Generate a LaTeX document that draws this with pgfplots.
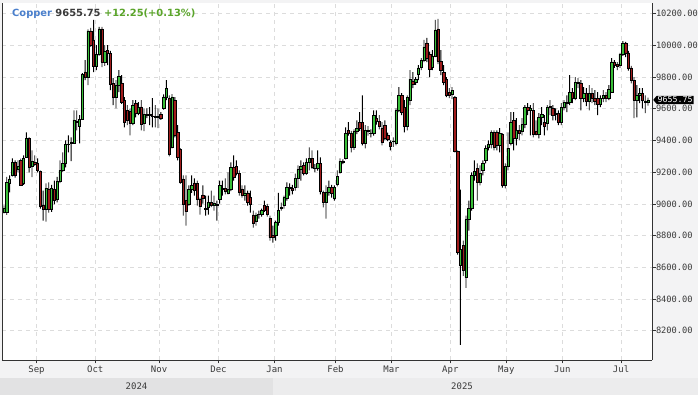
\documentclass[border=0pt]{standalone}
\usepackage{fontspec}
\setmainfont{DejaVu Sans}
\setmonofont{DejaVu Sans Mono}
\usepackage{pgfplots}
\usepackage{pgfplotstable}
\pgfplotsset{compat=1.18}
\usetikzlibrary{shapes.symbols}
\pgfdeclarelayer{bglayer}
\pgfsetlayers{bglayer,main}
\definecolor{bg}{HTML}{F3F3F4}
\definecolor{gridc}{HTML}{DCDCDC}
\definecolor{axc}{HTML}{333333}
\definecolor{txt}{HTML}{3A3A3A}
\definecolor{cgreen}{HTML}{38BE38}
\definecolor{cred}{HTML}{A01C1C}
\definecolor{tblue}{HTML}{4A7FCC}
\definecolor{tgreen}{HTML}{5BA52B}
\definecolor{yrA}{HTML}{E2E2E3}
\definecolor{yrB}{HTML}{ECECED}

\pgfplotstableread{
i O H L C
0 8950 8990 8940 8975
1 8945 9170 8930 9137
2 9127 9180 9072 9158
3 9179 9287 9173 9260
4 9260 9274 9166 9179
5 9217 9274 9198 9238
6 9274 9285 9116 9120
7 9127 9306 9120 9289
8 9295 9451 9290 9415
9 9411 9420 9198 9232
10 9238 9337 9168 9270
11 9264 9306 9240 9249
12 9257 9287 9198 9211
13 9205 9210 8970 8985
14 8989 9084 8894 8964
15 8968 9129 8888 9099
16 9095 9135 8945 8968
17 8968 9120 8950 9099
18 9095 9147 8996 9021
19 9027 9170 9010 9143
20 9143 9274 9130 9211
21 9211 9325 9200 9253
22 9257 9401 9230 9374
23 9374 9432 9325 9378
24 9380 9420 9270 9390
25 9380 9590 9380 9529
26 9521 9590 9464 9513
27 9490 9559 9382 9534
28 9534 9825 9530 9817
29 9833 9907 9780 9801
30 9801 10100 9749 10091
31 10091 10110 9990 10002
32 10034 10160 9831 9865
33 9865 10002 9844 9943
34 9943 10116 9935 10103
35 10103 10116 9863 9896
36 9896 10002 9870 9960
37 9970 10002 9875 9950
38 9950 9965 9717 9753
39 9760 9793 9622 9675
40 9675 9780 9603 9749
41 9745 9844 9705 9808
42 9760 9812 9630 9643
43 9654 9673 9483 9517
44 9591 9622 9496 9527
45 9584 9600 9432 9506
46 9506 9654 9496 9622
47 9633 9654 9546 9570
48 9570 9641 9560 9612
49 9612 9654 9464 9500
50 9506 9603 9458 9563
51 9565 9603 9540 9560
52 9560 9610 9496 9565
53 9555 9667 9483 9550
54 9550 9622 9483 9547
55 9545 9603 9477 9550
56 9565 9578 9530 9538
57 9601 9690 9595 9675
58 9675 9780 9654 9728
59 9665 9685 9300 9316
60 9358 9692 9350 9675
61 9654 9673 9420 9432
62 9453 9496 9274 9295
63 9344 9350 9128 9137
64 9158 9179 8926 9000
65 9021 9179 8863 8951
66 9000 9116 8989 9090
67 9090 9179 9070 9116
68 9133 9160 9052 9084
69 9127 9147 8989 9027
70 9027 9040 8932 8983
71 9057 9116 9002 9035
72 8964 9052 8926 8970
73 8979 9052 8932 9010
74 9010 9084 8980 8989
75 8989 9052 8957 9004
76 8995 9021 8894 8993
77 9027 9147 9002 9116
78 9095 9147 9052 9098
79 9099 9160 9060 9078
80 9070 9198 9060 9089
81 9089 9262 9080 9228
82 9232 9306 9147 9168
83 9238 9274 9180 9190
84 9192 9211 9052 9072
85 9095 9116 9040 9052
86 9052 9116 9021 9070
87 9070 9084 8989 9008
88 9040 9084 8945 9000
89 8930 8957 8850 8880
90 8888 8945 8863 8930
91 8932 8957 8907 8935
92 8932 8970 8920 8957
93 8989 9021 8950 8957
94 8983 9000 8920 8932
95 8907 8926 8768 8787
96 8799 8863 8755 8787
97 8799 8894 8768 8882
98 8882 9070 8863 8957
99 8975 9008 8957 8980
100 8989 9052 8970 9040
101 9034 9135 9020 9103
102 9097 9129 9052 9103
103 9097 9120 9060 9084
104 9103 9190 9084 9160
105 9160 9242 9100 9217
106 9217 9274 9147 9236
107 9242 9262 9180 9192
108 9192 9287 9185 9262
109 9262 9356 9211 9287
110 9287 9337 9220 9230
111 9225 9250 9200 9222
112 9225 9337 9210 9255
113 9255 9293 9060 9078
114 9072 9084 8977 9008
115 9008 9116 8907 9072
116 9072 9147 9052 9103
117 9103 9120 9040 9065
118 9034 9116 9020 9103
119 9122 9211 9110 9173
120 9198 9287 9190 9268
121 9268 9280 9250 9265
122 9287 9483 9280 9445
123 9464 9515 9430 9445
124 9445 9460 9325 9356
125 9356 9470 9340 9458
126 9458 9527 9440 9477
127 9515 9578 9460 9477
128 9515 9685 9369 9382
129 9382 9496 9350 9464
130 9460 9490 9430 9466
131 9445 9470 9420 9448
132 9445 9590 9430 9559
133 9540 9590 9500 9521
134 9521 9559 9470 9490
135 9477 9515 9369 9388
136 9496 9527 9400 9413
137 9432 9450 9395 9407
138 9388 9400 9337 9363
139 9395 9420 9360 9398
140 9382 9603 9369 9590
141 9590 9736 9578 9685
142 9685 9698 9559 9578
143 9610 9654 9451 9490
144 9490 9685 9464 9673
145 9654 9844 9622 9787
146 9774 9831 9730 9755
147 9768 9800 9750 9787
148 9819 9875 9780 9857
149 9863 9920 9844 9907
150 9907 10034 9894 9990
151 10015 10047 9894 9920
152 9945 9960 9800 9850
153 9863 9970 9844 9933
154 9933 10160 9925 10097
155 10103 10167 9882 9901
156 9901 9970 9812 9844
157 9831 9875 9749 9768
158 9787 9800 9673 9685
159 9705 9730 9667 9685
160 9692 9736 9660 9717
161 9673 9680 9325 9331
162 9331 9335 8680 8692
163 8610 9090 8110 8711
164 8736 8768 8546 8578
165 8534 8926 8470 8901
166 8901 9021 8831 8970
167 8970 9198 8957 9179
168 9179 9274 9147 9205
169 9224 9255 9021 9135
170 9135 9242 9116 9192
171 9211 9274 9179 9255
172 9274 9369 9255 9350
173 9356 9401 9337 9375
174 9375 9464 9350 9451
175 9451 9464 9337 9356
176 9451 9464 9337 9369
177 9369 9477 9325 9445
178 9439 9445 9103 9116
179 9116 9255 9097 9236
180 9236 9451 9211 9350
181 9382 9578 9369 9515
182 9527 9578 9337 9413
183 9413 9540 9369 9464
184 9464 9496 9401 9445
185 9458 9540 9432 9502
186 9502 9622 9477 9610
187 9610 9635 9559 9590
188 9590 9622 9432 9603
189 9590 9635 9420 9439
190 9458 9527 9432 9439
191 9439 9572 9413 9546
192 9546 9610 9496 9565
193 9515 9559 9432 9490
194 9508 9622 9464 9610
195 9610 9654 9559 9616
196 9603 9622 9527 9559
197 9572 9603 9527 9565
198 9572 9590 9496 9515
199 9515 9635 9496 9610
200 9610 9654 9590 9641
201 9635 9685 9578 9641
202 9641 9812 9622 9705
203 9705 9730 9635 9667
204 9667 9800 9654 9768
205 9762 9793 9730 9770
206 9762 9780 9590 9667
207 9667 9736 9641 9698
208 9698 9730 9616 9648
209 9648 9749 9590 9698
210 9698 9730 9635 9667
211 9667 9717 9622 9648
212 9667 9705 9559 9629
213 9629 9685 9610 9667
214 9667 9717 9641 9685
215 9685 9705 9641 9667
216 9667 9749 9654 9724
217 9707 9920 9705 9895
218 9895 9907 9857 9875
219 9882 9894 9844 9869
220 9875 9952 9857 9945
221 9945 10027 9933 10015
222 10015 10021 9926 9952
223 9952 9965 9840 9857
224 9857 9870 9760 9780
225 9780 9800 9540 9654
226 9654 9749 9546 9685
227 9685 9730 9635 9698
228 9698 9730 9603 9654
229 9650 9685 9572 9643
230 9643.5 9670 9620 9655.75
}\candles

\begin{document}
\begin{tikzpicture}[x=1pt,y=1pt]
\begin{axis}[
  scale only axis, width=650pt, height=357pt,
  xmin=-0.714, xmax=231.43, ymin=8015, ymax=10267,
  axis background/.style={fill=white},
  axis x line*=bottom, axis y line*=right,
  axis line style={axc, line width=0.8pt},
  tick align=outside, major tick length=3.5pt,
  tick style={axc, line width=0.6pt},
  xtick={11.6,32.6,55.4,76.6,96.6,118.4,138.4,159.4,179.4,199.4,220.4},
  xticklabels={Sep,Oct,Nov,Dec,Jan,Feb,Mar,Apr,May,Jun,Jul},
  ytick={8200,8400,8600,8800,9000,9200,9400,9600,9800,10000,10200},
  yticklabels={8200.00,8400.00,8600.00,8800.00,9000.00,9200.00,9400.00,9600.00,9800.00,10000.00,10200.00},
  xticklabel style={font=\ttfamily\fontsize{9}{10}\selectfont, text=txt, inner sep=2pt},
  yticklabel style={font=\ttfamily\fontsize{8.7}{10}\selectfont, text=txt, inner sep=0.3pt},
  grid=major,
  major grid style={gridc, dash pattern=on 4pt off 4pt, line width=0.6pt},
  ybar stacked,
]
% invisible base up to the low
\addplot[draw=none, fill=none, bar width=0.9pt] table[x=i, y=L] {\candles};
% lower wick
\addplot[draw=none, fill=black, bar width=0.9pt] table[x=i, y expr={min(\thisrow{O},\thisrow{C})-\thisrow{L}}] {\candles};
% rising bodies
\addplot[fill=cgreen, draw=black, line width=0.5pt, bar width=2.3pt] table[x=i, y expr={max(\thisrow{C}-\thisrow{O},0)}] {\candles};
% falling bodies
\addplot[fill=cred, draw=black, line width=0.5pt, bar width=2.3pt] table[x=i, y expr={max(\thisrow{O}-\thisrow{C},0)}] {\candles};
% upper wick
\addplot[draw=none, fill=black, bar width=0.9pt] table[x=i, y expr={\thisrow{H}-max(\thisrow{O},\thisrow{C})}] {\candles};
\coordinate (BL) at (rel axis cs:0,0);
\coordinate (TR) at (rel axis cs:1,1);
\coordinate (tagpt) at (axis cs:231.43,9655.75);
\end{axis}
\draw[axc, line width=0.8pt] (BL) -- (BL |- TR);

\begin{pgfonlayer}{bglayer}
\fill[bg] ([shift={(-2,-35)}]BL) rectangle ([shift={(46,3)}]TR);
\fill[yrA] ([shift={(-2,-35)}]BL) rectangle ([shift={(271,-18)}]BL);
\fill[yrB] ([shift={(271,-35)}]BL) rectangle ([shift={(696,-18)}]BL);
\end{pgfonlayer}
\node[font=\ttfamily\fontsize{9}{10}\selectfont, text=txt] at ([shift={(134.5,-26.5)}]BL) {2024};
\node[font=\ttfamily\fontsize{9}{10}\selectfont, text=txt] at ([shift={(460,-26.5)}]BL) {2025};

\node[shape=signal, signal to=west, signal pointer angle=100, fill=black, text=white,
  font=\ttfamily\fontsize{8.3}{9}\selectfont, inner sep=1pt, anchor=west]
  at ([xshift=1pt]tagpt) {9655.75};

\node[anchor=base west, inner sep=0pt, font=\bfseries\fontsize{9.9}{11}\selectfont] at ([shift={(10,343)}]BL)
  {\textcolor{tblue}{Copper} \textcolor{txt}{9655.75} \textcolor{tgreen}{+12.25(+0.13\%)}};

\pgfresetboundingbox
\path[use as bounding box] ([shift={(-2,-35)}]BL) rectangle ([shift={(46,3)}]TR);
\end{tikzpicture}
\end{document}
